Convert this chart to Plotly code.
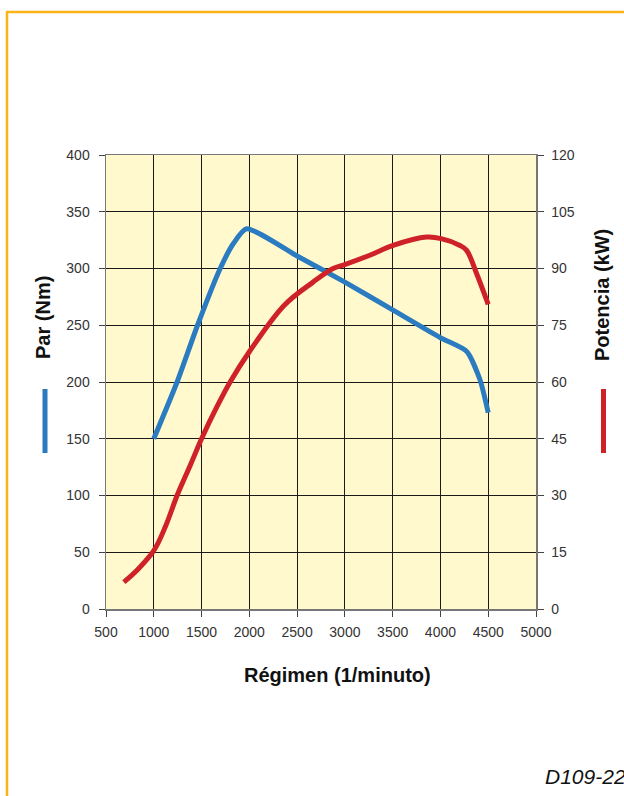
import plotly.graph_objects as go

# Torque curve (Nm) vs engine speed (1/min)
torque_rpm = [1000, 1244, 1458, 1695, 1833, 1970, 2500, 3000, 3500, 4000, 4274, 4414, 4500]
torque_nm = [150, 200, 250, 300, 322, 335, 311, 288, 263.5, 239, 227, 202, 173]

# Power curve (kW) vs engine speed (1/min)
power_rpm = [687, 827, 1000, 1122, 1244, 1382, 1500, 1660, 1799, 2000, 2366, 2667, 2876,
             3005, 3261, 3505, 3854, 4008, 4204, 4274, 4379, 4500]
power_kw = [7.1, 10.3, 15.4, 21.8, 30, 38, 45, 53.4, 60, 68, 80.3, 86.4, 90,
            91.1, 93.5, 96.1, 98.3, 97.9, 96.1, 94.8, 88.6, 80.5]

x_ticks = [500, 1000, 1500, 2000, 2500, 3000, 3500, 4000, 4500, 5000]
y_ticks = [0, 50, 100, 150, 200, 250, 300, 350, 400]
y2_ticks = [0, 15, 30, 45, 60, 75, 90, 105, 120]

BLUE = "#2A7BC0"
RED = "#CE2228"
ORANGE = "#FBB417"
FONT = "Liberation Sans, Arial, sans-serif"

W, H = 624, 796
L, R, T, B = 106, 536, 155, 609  # plot area in pixels


def px(xp):
    return (xp - L) / (R - L)


def py(yp):
    return (B - yp) / (B - T)


fig = go.Figure()
fig.add_trace(go.Scatter(x=power_rpm, y=power_kw, mode="lines", yaxis="y2",
                         line=dict(color=RED, width=5, shape="spline", smoothing=1.0),
                         showlegend=False))
fig.add_trace(go.Scatter(x=torque_rpm, y=torque_nm, mode="lines",
                         line=dict(color=BLUE, width=5, shape="spline", smoothing=0.6),
                         showlegend=False))

axis_common = dict(showgrid=True, gridcolor="#1a1a1a", gridwidth=1,
                   showline=True, linecolor="#777777", linewidth=1.5,
                   ticks="outside", tickcolor="#444444", ticklen=6,
                   tickfont=dict(family=FONT, size=14, color="#333333"),
                   zeroline=False, fixedrange=True)

fig.update_layout(
    width=W, height=H,
    margin=dict(l=L, r=W - R, t=T, b=H - B),
    paper_bgcolor="white",
    plot_bgcolor="#FFF9CD",
    xaxis=dict(range=[500, 5000], tickvals=x_ticks, ticktext=[str(v) for v in x_ticks],
               mirror=True, ticklabelstandoff=4, **axis_common),
    yaxis=dict(range=[0, 400], tickvals=y_ticks, mirror=False,
               ticklabelstandoff=6, **axis_common),
    yaxis2=dict(range=[0, 120], tickvals=y2_ticks, overlaying="y", side="right",
                showgrid=False, showline=True, linecolor="#777777", linewidth=1.5,
                ticks="outside", tickcolor="#444444", ticklen=6, ticklabelstandoff=5,
                tickfont=dict(family=FONT, size=14, color="#333333"),
                zeroline=False, fixedrange=True),
    showlegend=False,
)

annotations = [
    dict(text="<b>Par (Nm)</b>", x=px(43), y=py(318), textangle=-90,
         font=dict(family=FONT, size=20, color="#111111")),
    dict(text="<b>Potencia (kW)</b>", x=px(602), y=py(295), textangle=-90,
         font=dict(family=FONT, size=20, color="#111111")),
    dict(text="<b>Régimen (1/minuto)</b>", x=px(337), y=py(675),
         font=dict(family=FONT, size=20, color="#111111")),
    dict(text="<i>D109-22</i>", x=px(543), y=py(776), xanchor="left",
         font=dict(family=FONT, size=21, color="#111111")),
]
for a in annotations:
    a.update(xref="paper", yref="paper", showarrow=False)
    a.setdefault("xanchor", "center")
    a.setdefault("yanchor", "middle")
fig.update_layout(annotations=annotations)

shapes = [
    # orange frame
    dict(type="line", x0=px(7), x1=px(640), y0=py(12), y1=py(12),
         line=dict(color=ORANGE, width=2.5)),
    dict(type="line", x0=px(7), x1=px(7), y0=py(11), y1=py(810),
         line=dict(color=ORANGE, width=2.5)),
    # legend marks
    dict(type="line", x0=px(45), x1=px(45), y0=py(389), y1=py(453),
         line=dict(color=BLUE, width=5)),
    dict(type="line", x0=px(603.5), x1=px(603.5), y0=py(389), y1=py(453),
         line=dict(color=RED, width=5)),
]
for s in shapes:
    s.update(xref="paper", yref="paper", layer="above")
fig.update_layout(shapes=shapes)

fig.write_html("out.html",
               config={"displayModeBar": False, "staticPlot": True},
               post_script="document.body.style.margin='0';document.body.style.padding='0';"
                           "document.body.style.overflow='hidden';")
